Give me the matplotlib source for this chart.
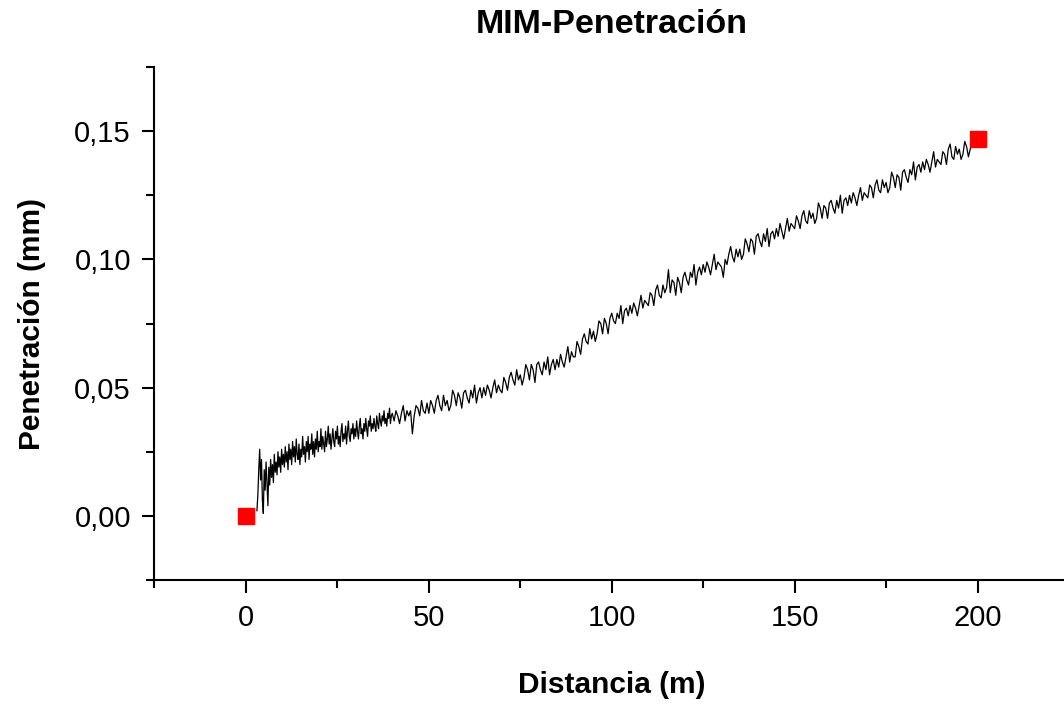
import numpy as np
import matplotlib
matplotlib.use("Agg")
import matplotlib.pyplot as plt
from matplotlib.ticker import MultipleLocator, FuncFormatter

plt.rcParams['font.family'] = ['Liberation Sans', 'DejaVu Sans']

title = "MIM-Penetración"
xlabel = "Distancia (m)"
ylabel = "Penetración (mm)"

# Sampling distances (m)
dist_a = np.arange(3.0, 40.0, 0.25)
dist_b = np.arange(40.0, 199.0, 0.5)

# Penetration in micrometres
pen_a_um = [
    2, 8, 18, 26, 14, 22, 6, 1,
    18, 10, 21, 13, 4, 19, 12, 22,
    15, 20, 13, 24, 17, 21, 16, 25,
    19, 23, 17, 26, 20, 24, 19, 27,
    21, 25, 18, 28, 22, 26, 20, 29,
    23, 27, 21, 30, 24, 22, 28, 20,
    26, 23, 31, 24, 27, 21, 29, 25,
    31, 22, 28, 26, 32, 24, 29, 23,
    30, 26, 33, 25, 29, 27, 34, 26,
    31, 28, 25, 33, 27, 30, 35, 28,
    32, 26, 30, 34, 29, 27, 33, 30,
    35, 28, 31, 27, 33, 36, 29, 32,
    30, 35, 28, 33, 37, 31, 29, 34,
    32, 36, 30, 34, 31, 37, 33, 30,
    35, 38, 32, 34, 30, 36, 33, 38,
    34, 31, 37, 35, 39, 33, 36, 34,
    38, 35, 33, 39, 36, 34, 40, 37,
    35, 39, 37, 41, 36, 38, 35, 40,
    38, 42, 36, 39,
]
pen_b_um = [
    40, 37, 41, 39, 36, 40, 43, 37, 41, 39,
    41, 32, 39, 43, 42, 39, 45, 41, 40, 44,
    40, 45, 43, 40, 45, 47, 43, 41, 47, 43,
    45, 41, 43, 49, 47, 43, 48, 46, 42, 48,
    49, 46, 44, 49, 46, 51, 44, 48, 50, 46,
    50, 47, 51, 49, 46, 50, 53, 48, 51, 49,
    48, 54, 52, 49, 54, 56, 53, 51, 57, 53,
    55, 51, 54, 59, 57, 53, 59, 57, 52, 59,
    60, 57, 55, 60, 57, 62, 55, 59, 61, 57,
    61, 58, 63, 60, 58, 62, 66, 60, 64, 62,
    62, 68, 66, 63, 69, 71, 68, 67, 73, 69,
    72, 68, 71, 76, 75, 71, 77, 75, 71, 77,
    79, 76, 75, 79, 77, 82, 75, 80, 81, 78,
    82, 79, 83, 81, 78, 82, 86, 81, 84, 83,
    82, 87, 86, 82, 88, 90, 86, 85, 90, 87,
    89, 96, 87, 92, 91, 86, 93, 91, 87, 93,
    95, 92, 90, 95, 93, 98, 90, 95, 97, 94,
    98, 95, 99, 97, 94, 98, 102, 96, 99, 98,
    97, 93, 100, 98, 102, 105, 101, 99, 104, 101,
    104, 100, 102, 108, 106, 103, 108, 107, 102, 109,
    110, 107, 105, 110, 107, 112, 105, 110, 111, 108,
    112, 109, 114, 111, 108, 112, 116, 111, 114, 113,
    112, 117, 115, 112, 117, 119, 115, 114, 119, 116,
    118, 114, 116, 122, 120, 116, 121, 120, 116, 122,
    123, 120, 118, 123, 120, 125, 118, 123, 124, 121,
    125, 122, 126, 124, 121, 125, 128, 123, 126, 125,
    124, 129, 128, 124, 129, 131, 127, 126, 131, 128,
    130, 126, 128, 134, 132, 128, 133, 132, 127, 134,
    135, 132, 130, 135, 133, 138, 131, 136, 137, 134,
    138, 135, 139, 137, 134, 138, 142, 136, 139, 138,
    137, 142, 141, 137, 143, 145, 140, 139, 144, 141,
    143, 139, 141, 146, 144, 140, 143, 145,
]

marker_x = [0, 200]
marker_y = [0.0, 0.147]

dist = np.concatenate([dist_a, dist_b])
pen = np.concatenate([np.array(pen_a_um), np.array(pen_b_um)]) / 1000.0

fig = plt.figure(figsize=(10.64, 7.13), dpi=100)
ax = fig.add_axes([0.1452, 0.1865, 0.8595, 0.7195])

ax.plot(dist, pen, color='black', linewidth=0.9)
ax.plot(marker_x, marker_y, linestyle='none', marker='s', color='#ff0000',
        markersize=11.5, zorder=5)

ax.set_xlim(-25, 225)
ax.set_ylim(-0.025, 0.175)
ax.xaxis.set_major_locator(MultipleLocator(50))
ax.xaxis.set_minor_locator(MultipleLocator(25))
ax.yaxis.set_major_locator(MultipleLocator(0.05))
ax.yaxis.set_minor_locator(MultipleLocator(0.025))
ax.yaxis.set_major_formatter(FuncFormatter(lambda v, p: f"{v:.2f}".replace('.', ',')))
ax.xaxis.set_major_formatter(FuncFormatter(lambda v, p: f"{v:.0f}"))

for s in ['top', 'right']:
    ax.spines[s].set_visible(False)
for s in ['left', 'bottom']:
    ax.spines[s].set_linewidth(1.5)

ax.tick_params(which='major', direction='out', length=9, width=1.5, labelsize=21, pad=8)
ax.tick_params(which='minor', direction='out', length=5.5, width=1.5)

ax.set_xlabel(xlabel, fontsize=21.5, fontweight='bold', labelpad=28)
ax.set_ylabel(ylabel, fontsize=21.5, fontweight='bold', labelpad=20)
fig.text(0.575, 0.965, title, fontsize=24.5, fontweight='bold', ha='center', va='center')

fig.savefig("out.png", dpi=100)
